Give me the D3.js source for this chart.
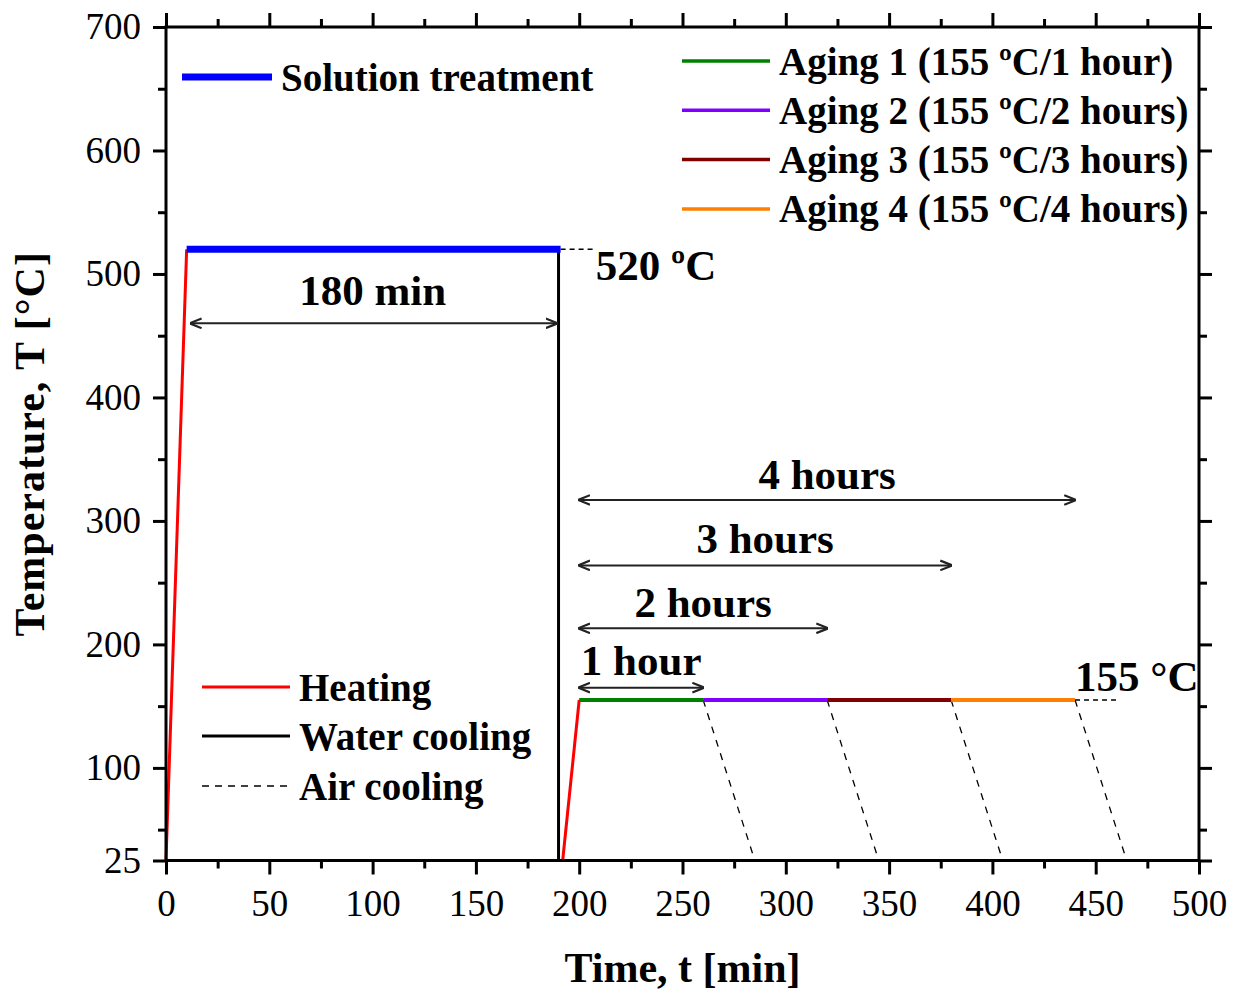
<!DOCTYPE html>
<html>
<head>
<meta charset="utf-8">
<script src="https://cdn.jsdelivr.net/npm/d3@7"></script>
<style>
  body { margin: 0; background: #fff; }
  svg { display: block; }
  text { font-family: "Liberation Serif", "Times New Roman", serif; fill: #000; }
</style>
</head>
<body>
<svg id="chart" width="1237" height="996"></svg>
<script>
// ---------- data ----------
const xTicks = [0, 50, 100, 150, 200, 250, 300, 350, 400, 450, 500];
const xMinorTicks = [25, 75, 125, 175, 225, 275, 325, 375, 425, 475];
const yTicks = [25, 100, 200, 300, 400, 500, 600, 700];
const yMinorTicks = [50, 150, 250, 350, 450, 550, 650];

const heating1 = [[0, 25], [10, 520]];
const solution = [[10, 520], [191, 520]];
const waterCooling = [[190, 520], [190, 25]];
const solutionExtension = [[191, 520], [207, 520]];
const heating2 = [[192, 25], [200, 155]];

const agingNames = ["Aging 1 (155 ºC/1 hour)", "Aging 2 (155 ºC/2 hours)", "Aging 3 (155 ºC/3 hours)", "Aging 4 (155 ºC/4 hours)"];
const agingStart = [200, 260, 320, 380];
const agingEnd = [260, 320, 380, 440];
const agingTemp = 155;
const agingColors = ["#008000", "#8000ff", "#800000", "#ff8000"];
const airCoolStart = [260, 320, 380, 440];
const airCoolEnd = [285, 345, 405, 465];
const agingExtension = [[440, 155], [460, 155]];

const spanLabels = ["1 hour", "2 hours", "3 hours", "4 hours"];
const spanFrom = [200, 200, 200, 200];
const spanTo = [260, 320, 380, 440];
const spanY = [165, 213, 264, 317];
const spanLabelY = [187, 234, 286, 338];
const soakSpan = [12, 189];
const soakSpanY = 460;
const soakLabel = "180 min";
const soakLabelPos = [100, 487];
const tempLabels = ["520 ºC", "155 °C"];
const tempLabelPos = [[208, 507], [440, 174]];

// ---------- layout ----------
const svg = d3.select("#chart");
const mLeft = 166, mRight = 1199, mTop = 27, mBottom = 860.5;
const x = d3.scaleLinear().domain([0, 500]).range([mLeft, mRight]);
const y = d3.scaleLinear().domain([25, 700]).range([mBottom, mTop]);
const line = d3.line().x(d => x(d[0])).y(d => y(d[1]));

// arrow markers
const defs = svg.append("defs");
defs.append("marker").attr("id", "arrEnd").attr("viewBox", "0 0 10 10")
  .attr("refX", 9).attr("refY", 5).attr("markerWidth", 6).attr("markerHeight", 6)
  .attr("markerUnits", "strokeWidth").attr("orient", "auto")
  .append("path").attr("d", "M0,1 L10,5 L0,9").attr("fill", "none").attr("stroke", "#222").attr("stroke-width", 1.8);
defs.append("marker").attr("id", "arrStart").attr("viewBox", "0 0 10 10")
  .attr("refX", 1).attr("refY", 5).attr("markerWidth", 6).attr("markerHeight", 6)
  .attr("markerUnits", "strokeWidth").attr("orient", "auto")
  .append("path").attr("d", "M10,1 L0,5 L10,9").attr("fill", "none").attr("stroke", "#222").attr("stroke-width", 1.8);

// ---------- axes ----------
function styleAxis(g) {
  g.selectAll(".domain").remove();
  g.selectAll(".tick line").attr("stroke", "#000").attr("stroke-width", 3);
  g.selectAll(".tick text").style("font-family", "Liberation Serif").style("font-size", "37px").attr("fill", "#000");
}
const gx = svg.append("g").attr("transform", `translate(0,${mBottom})`)
  .call(d3.axisBottom(x).tickValues(xTicks).tickSize(14).tickPadding(10).tickFormat(d3.format("d")));
styleAxis(gx);
gx.selectAll(".tick text").attr("dy", "0.85em");
const gxm = svg.append("g").attr("transform", `translate(0,${mBottom})`)
  .call(d3.axisBottom(x).tickValues(xMinorTicks).tickSize(8).tickFormat(""));
styleAxis(gxm);
const gxt = svg.append("g").attr("transform", `translate(0,${mTop})`)
  .call(d3.axisTop(x).tickValues(xTicks).tickSize(14).tickFormat(""));
styleAxis(gxt);
const gxtm = svg.append("g").attr("transform", `translate(0,${mTop})`)
  .call(d3.axisTop(x).tickValues(xMinorTicks).tickSize(8).tickFormat(""));
styleAxis(gxtm);

const gy = svg.append("g").attr("transform", `translate(${mLeft},0)`)
  .call(d3.axisLeft(y).tickValues(yTicks).tickSize(13).tickPadding(12).tickFormat(d3.format("d")));
styleAxis(gy);
const gym = svg.append("g").attr("transform", `translate(${mLeft},0)`)
  .call(d3.axisLeft(y).tickValues(yMinorTicks).tickSize(8).tickFormat(""));
styleAxis(gym);
const gyr = svg.append("g").attr("transform", `translate(${mRight},0)`)
  .call(d3.axisRight(y).tickValues(yTicks).tickSize(13).tickFormat(""));
styleAxis(gyr);
const gyrm = svg.append("g").attr("transform", `translate(${mRight},0)`)
  .call(d3.axisRight(y).tickValues(yMinorTicks).tickSize(8).tickFormat(""));
styleAxis(gyrm);

// ---------- data lines ----------
const plot = svg.append("g");
plot.append("path").datum(solutionExtension).attr("d", line).attr("fill", "none")
  .attr("stroke", "#000").attr("stroke-width", 1.5).attr("stroke-dasharray", "5,4");
plot.append("path").datum(agingExtension).attr("d", line).attr("fill", "none")
  .attr("stroke", "#000").attr("stroke-width", 1.5).attr("stroke-dasharray", "5,4");
agingStart.forEach((s, i) => {
  plot.append("path").datum([[airCoolStart[i], agingTemp], [airCoolEnd[i], 25]]).attr("d", line)
    .attr("fill", "none").attr("stroke", "#000").attr("stroke-width", 1.3).attr("stroke-dasharray", "7,7");
});
plot.append("path").datum(waterCooling).attr("d", line).attr("fill", "none")
  .attr("stroke", "#000").attr("stroke-width", 3);
plot.append("path").datum(heating1).attr("d", line).attr("fill", "none")
  .attr("stroke", "#ff0000").attr("stroke-width", 3);
plot.append("path").datum(heating2).attr("d", line).attr("fill", "none")
  .attr("stroke", "#ff0000").attr("stroke-width", 3);
plot.append("path").datum(solution).attr("d", line).attr("fill", "none")
  .attr("stroke", "#0000ff").attr("stroke-width", 7);
agingStart.forEach((s, i) => {
  plot.append("path").datum([[s, agingTemp], [agingEnd[i], agingTemp]]).attr("d", line)
    .attr("fill", "none").attr("stroke", agingColors[i]).attr("stroke-width", 4);
});

// ---------- span arrows & labels ----------
function arrow(x1, x2, yv) {
  plot.append("line").attr("x1", x(x1)).attr("x2", x(x2)).attr("y1", y(yv)).attr("y2", y(yv))
    .attr("stroke", "#222").attr("stroke-width", 2)
    .attr("marker-start", "url(#arrStart)").attr("marker-end", "url(#arrEnd)");
}
arrow(soakSpan[0], soakSpan[1], soakSpanY);
plot.append("text").attr("x", x(soakLabelPos[0])).attr("y", y(soakLabelPos[1]))
  .attr("text-anchor", "middle").attr("dominant-baseline", "central")
  .style("font-size", "43px").style("font-weight", "bold").text(soakLabel);
spanLabels.forEach((lab, i) => {
  arrow(spanFrom[i], spanTo[i], spanY[i]);
  plot.append("text").attr("x", x((spanFrom[i] + spanTo[i]) / 2)).attr("y", y(spanLabelY[i]))
    .attr("text-anchor", "middle").attr("dominant-baseline", "central")
    .style("font-size", "43px").style("font-weight", "bold").text(lab);
});
tempLabels.forEach((lab, i) => {
  plot.append("text").attr("x", x(tempLabelPos[i][0])).attr("y", y(tempLabelPos[i][1]))
    .attr("dominant-baseline", "central")
    .style("font-size", "43px").style("font-weight", "bold").text(lab);
});

// ---------- frame ----------
svg.append("rect").attr("x", mLeft).attr("y", mTop).attr("width", mRight - mLeft).attr("height", mBottom - mTop)
  .attr("fill", "none").attr("stroke", "#000").attr("stroke-width", 3);

// ---------- legends ----------
const lg = svg.append("g");
function legendItem(x1, x2, yy, color, width, dash, label) {
  lg.append("line").attr("x1", x1).attr("x2", x2).attr("y1", yy).attr("y2", yy)
    .attr("stroke", color).attr("stroke-width", width).attr("stroke-dasharray", dash);
  lg.append("text").attr("x", x2 + 9).attr("y", yy).attr("dominant-baseline", "central")
    .style("font-size", "39px").style("font-weight", "bold").text(label);
}
legendItem(182, 272, 77, "#0000ff", 7, null, "Solution treatment");
agingNames.forEach((n, i) => legendItem(682, 770, 61 + i * 49.3, agingColors[i], 3.5, null, n));
legendItem(202, 290, 687, "#ff0000", 3, null, "Heating");
legendItem(202, 290, 736, "#000", 3, null, "Water cooling");
legendItem(202, 290, 786, "#000", 1.5, "7,6", "Air cooling");

// ---------- axis titles ----------
svg.append("text").attr("x", (mLeft + mRight) / 2).attr("y", 968).attr("text-anchor", "middle")
  .attr("dominant-baseline", "central").style("font-size", "42px").style("font-weight", "bold")
  .text("Time, t [min]");
svg.append("text").attr("transform", `translate(30,${(mTop + mBottom) / 2}) rotate(-90)`)
  .attr("text-anchor", "middle").attr("dominant-baseline", "central")
  .style("font-size", "42px").style("font-weight", "bold").style("letter-spacing", "1px")
  .text("Temperature, T [°C]");
</script>
</body>
</html>
